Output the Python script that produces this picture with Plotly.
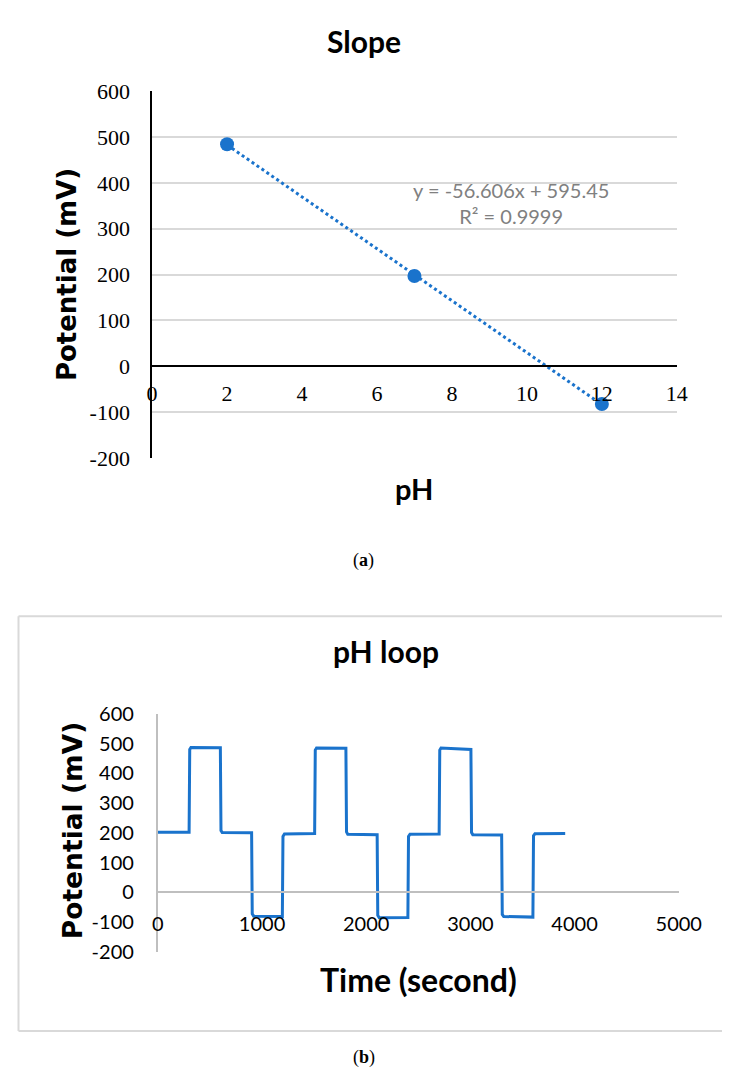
import numpy as np
import plotly.graph_objects as go

# ---------------- data ----------------
ph_values = [2, 7, 12]
slope_potential_mV = [484, 197, -82]

time_s = [0, 300, 306, 318, 600, 606, 618, 900, 906, 920, 1195, 1201, 1215,
          1505, 1511, 1523, 1805, 1811, 1823, 2105, 2111, 2125, 2400, 2406, 2420,
          2700, 2706, 2718, 3005, 3011, 3023, 3300, 3306, 3320, 3600, 3606, 3620, 3910]
potential_mV = [202, 202, 480, 487, 486, 208, 201, 200, -72, -80, -81, 188, 196,
                198, 478, 485, 484, 203, 195, 194, -77, -85, -84, 188, 195,
                196, 478, 485, 480, 201, 194, 193, -74, -81, -83, 190, 197, 198]

x_ticks_a = [0, 2, 4, 6, 8, 10, 12, 14]
y_ticks = [-200, -100, 0, 100, 200, 300, 400, 500, 600]
y_tick_labels = ["-200", "-100", "0", "100", "200", "300", "400", "500", "600"]
x_ticks_b = [0, 1000, 2000, 3000, 4000, 5000]

BLUE = "#1A73CC"
W, H = 745, 1084

def px_x(p):
    return p / W

def px_y(p):
    return 1 - p / H

# trendline from data
coef = np.polyfit(ph_values, slope_potential_mV, 1)
fit_x = np.array([min(ph_values), max(ph_values)])
fit_y = np.polyval(coef, fit_x)

fig = go.Figure()

# ---------------- (a) Slope ----------------
fig.add_trace(go.Scatter(x=fit_x, y=fit_y, mode="lines",
                         line=dict(color=BLUE, width=3, dash="dot"),
                         xaxis="x", yaxis="y", showlegend=False, hoverinfo="skip"))
fig.add_trace(go.Scatter(x=ph_values, y=slope_potential_mV, mode="markers",
                         marker=dict(color=BLUE, size=14),
                         xaxis="x", yaxis="y", showlegend=False))

# ---------------- (b) pH loop ----------------
fig.add_trace(go.Scatter(x=time_s, y=potential_mV, mode="lines",
                         line=dict(color=BLUE, width=3),
                         xaxis="x2", yaxis="y2", showlegend=False))

ya_dom = [px_y(456), px_y(80)]
yb_dom = [px_y(962), px_y(718)]
zero_frac = 200 / 800

serif = "Liberation Serif"
sans = "Lato"

fig.update_layout(
    width=W, height=H,
    margin=dict(l=0, r=0, t=0, b=0),
    paper_bgcolor="white", plot_bgcolor="white",
    xaxis=dict(domain=[px_x(152), px_x(698)], range=[0, 14], tickvals=x_ticks_a,
               anchor="free", position=ya_dom[0] + zero_frac * (ya_dom[1] - ya_dom[0]),
               showline=True, linecolor="black", linewidth=2, showgrid=False, zeroline=False,
               ticks="outside", ticklen=7, tickcolor="rgba(0,0,0,0)",
               tickfont=dict(family=serif, size=22, color="black")),
    yaxis=dict(domain=ya_dom, range=[-200, 600], tickvals=y_ticks, ticktext=y_tick_labels, anchor="x",
               showline=True, linecolor="black", linewidth=1.5,
               showgrid=True, gridcolor="#D9D9D9", gridwidth=2, zeroline=False,
               ticks="outside", ticklen=16, tickcolor="rgba(0,0,0,0)",
               tickfont=dict(family=serif, size=22, color="black")),
    xaxis2=dict(domain=[px_x(158), px_x(700)], range=[0, 5000], tickvals=x_ticks_b,
                anchor="free", position=yb_dom[0] + zero_frac * (yb_dom[1] - yb_dom[0]),
                showline=True, linecolor="#BFBFBF", linewidth=2, showgrid=False, zeroline=False,
                ticks="outside", ticklen=14, tickcolor="rgba(0,0,0,0)",
                tickfont=dict(family=sans, size=20, color="black")),
    yaxis2=dict(domain=yb_dom, range=[-200, 600], tickvals=y_ticks, ticktext=y_tick_labels, anchor="x2",
                showline=True, linecolor="#BFBFBF", linewidth=2, showgrid=False, zeroline=False,
                ticks="outside", ticklen=18, tickcolor="rgba(0,0,0,0)",
                tickfont=dict(family=sans, size=20, color="black")),
)

ann = []
def text(x, y, t, size, family=sans, color="black", angle=0, bold=True, xref="paper", yref="paper"):
    ann.append(dict(x=x, y=y, xref=xref, yref=yref, text=f"<b>{t}</b>" if bold else t,
                    showarrow=False, textangle=angle, xanchor="center", yanchor="middle",
                    font=dict(family=family, size=size, color=color)))

text(px_x(372), px_y(29), "Slope", 30)
text(px_x(425), px_y(487), "pH", 29)
text(px_x(63), px_y(268), "Potential (mV)", 26, family="DejaVu Sans", angle=-90)
ann.append(dict(x=9.58, y=356, xref="x", yref="y", showarrow=False, align="center",
                text="y = -56.606x + 595.45<br>R² = 0.9999",
                font=dict(family=sans, size=20, color="#808080")))
text(px_x(372), px_y(561), "(<b>a</b>)", 18, family=serif, bold=False)

text(px_x(395), px_y(654), "pH loop", 30)
text(px_x(429), px_y(990), "Time (second)", 32)
text(px_x(70), px_y(838), "Potential (mV)", 26.5, family="DejaVu Sans", angle=-90)
text(px_x(372), px_y(1070), "(<b>b</b>)", 18, family=serif, bold=False)

fig.update_layout(annotations=ann)

# open-ended frame of panel (b): top, left and bottom edges (right edge runs off the page)
bx0, bx1 = px_x(13), 1.0
by0, by1 = px_y(1043), px_y(618)
frame = dict(type="line", xref="paper", yref="paper", line=dict(color="#D9D9D9", width=2), layer="below")
fig.add_shape(x0=bx0, x1=bx1, y0=by1, y1=by1, **frame)
fig.add_shape(x0=bx0, x1=bx1, y0=by0, y1=by0, **frame)
fig.add_shape(x0=bx0, x1=bx0, y0=by0, y1=by1, **frame)

fig.write_html("out.html", config={"displayModeBar": False},
               post_script="document.body.style.margin='0';")
